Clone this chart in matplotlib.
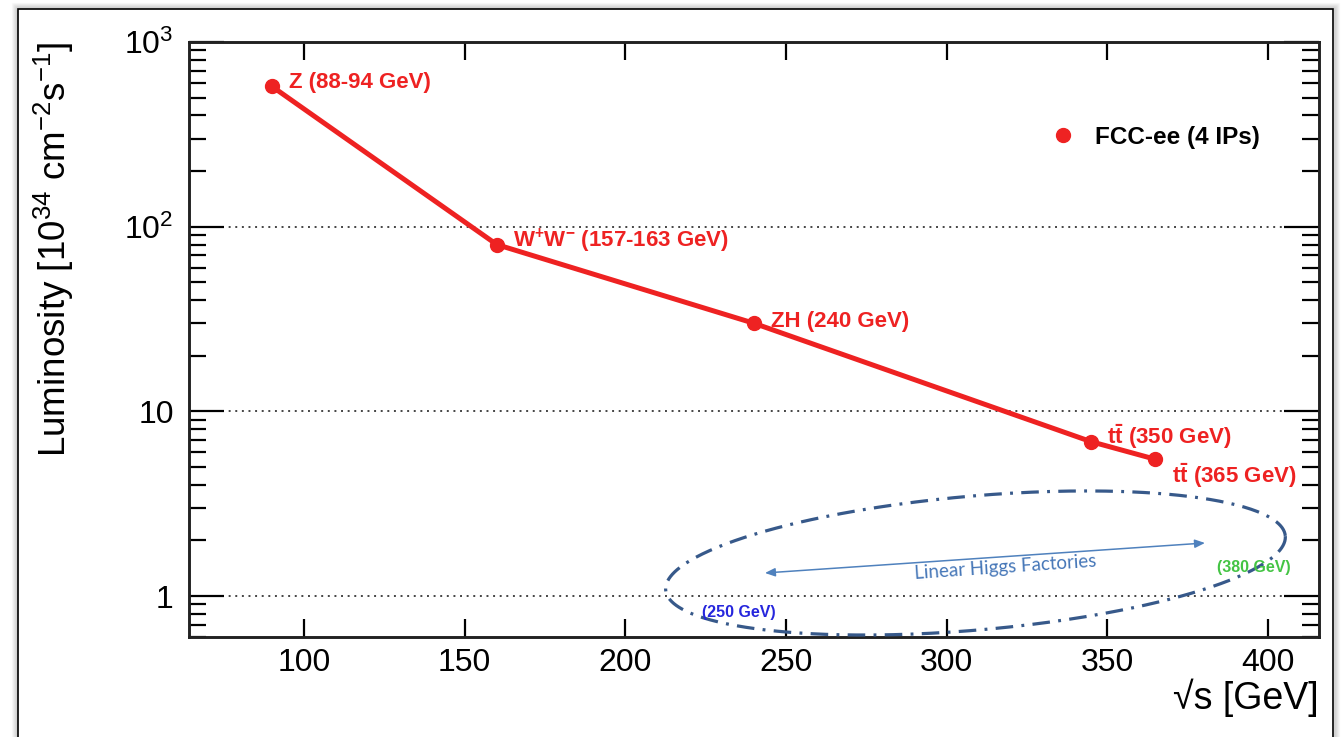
import numpy as np
import matplotlib
matplotlib.use("Agg")
import matplotlib.pyplot as plt
from matplotlib.patches import Rectangle
from matplotlib.lines import Line2D
from matplotlib.ticker import FixedLocator, FixedFormatter, LogLocator, NullFormatter, NullLocator

# FCC-ee operating points
sqrt_s = [90, 160, 240, 345, 365]
lumi = [575, 80, 30, 6.85, 5.5]
point_labels = [
    "Z (88-94 GeV)",
    r"$\mathbf{W^{+}W^{-}}$ (157-163 GeV)",
    "ZH (240 GeV)",
    r"$\mathbf{t\bar{t}}$ (350 GeV)",
    r"$\mathbf{t\bar{t}}$ (365 GeV)",
]
label_offsets = [(12, -1), (11.5, -2), (12, -2.5), (11.7, -1.5), (12, -17)]  # points

x_ticks = [100, 150, 200, 250, 300, 350, 400]
y_ticks = [1, 10, 100, 1000]
y_tick_labels = ["1", "10", r"$10^{2}$", r"$10^{3}$"]
legend_label = "FCC-ee (4 IPs)"

RED = "#ee2222"

plt.rcParams["font.family"] = ["Liberation Sans", "DejaVu Sans"]
plt.rcParams["mathtext.fontset"] = "custom"
plt.rcParams["mathtext.rm"] = "Liberation Sans"
plt.rcParams["mathtext.it"] = "Liberation Sans:italic"
plt.rcParams["mathtext.bf"] = "Liberation Sans:bold"

W, H = 1341, 737
fig = plt.figure(figsize=(W / 100, H / 100), dpi=100)
fig.subplots_adjust(left=189 / W, right=1319 / W, bottom=1 - 637 / H, top=1 - 42 / H)
ax = fig.add_subplot(111)

# main curve
ax.plot(sqrt_s, lumi, color=RED, lw=3.6, marker="o", ms=10, zorder=5, solid_capstyle="round")
for x, y, lab, off in zip(sqrt_s, lumi, point_labels, label_offsets):
    ax.annotate(lab, (x, y), xytext=off, textcoords="offset points",
                ha="left", va="baseline", color=RED, fontsize=16, fontweight="bold", zorder=6)

ax.set_yscale("log")
ax.set_xlim(64.2, 415.9)
ax.set_ylim(0.6, 1000)

ax.xaxis.set_major_locator(FixedLocator(x_ticks))
ax.xaxis.set_minor_locator(NullLocator())
ax.yaxis.set_major_locator(FixedLocator(y_ticks))
ax.yaxis.set_major_formatter(FixedFormatter(y_tick_labels))
ax.yaxis.set_minor_locator(LogLocator(base=10, subs=np.arange(2, 10)))
ax.yaxis.set_minor_formatter(NullFormatter())

ax.tick_params(axis="x", which="major", direction="in", length=13, width=1.6,
               top=True, bottom=True, labelsize=23, pad=8)
ax.tick_params(axis="y", which="major", direction="in", length=25, width=1.6,
               left=True, right=True, labelsize=23, pad=11)
ax.tick_params(axis="y", which="minor", direction="in", length=12, width=1.6,
               left=True, right=True)
for sp in ax.spines.values():
    sp.set_linewidth(2.1)
    sp.set_color("#222222")

ax.yaxis.grid(True, which="major", color="#444444", lw=1.4, linestyle=(0, (1, 2.4)))

ax.set_xlabel("√s [GeV]", fontsize=27, loc="right")
ax.xaxis.set_label_coords(1.0, -0.070)
ax.set_ylabel(r"Luminosity [10$^{34}$ cm$^{-2}$s$^{-1}$]", fontsize=26.5, loc="top")
ax.yaxis.set_label_coords(-0.100, 1.0)

# legend
handle = Line2D([], [], color=RED, marker="o", ms=10, lw=0)
ax.legend([handle], [legend_label], loc="center left", bbox_to_anchor=(0.7634, 0.840),
          frameon=False, borderpad=0, borderaxespad=0, handlelength=0.95, handletextpad=0.85,
          prop={"size": 17.5, "weight": "bold"})

# linear collider annotation (ellipse drawn in pixel aspect, placed in axes fraction)
aw, ah = 1130.0, 595.0
cx, cy, a, b, ang = 0.6960, 0.1244, 311.0, 67.0, np.deg2rad(5.0)
t = np.linspace(0, 2 * np.pi, 400)
ex = cx + (a * np.cos(t) * np.cos(ang) - b * np.sin(t) * np.sin(ang)) / aw
ey = cy + (a * np.cos(t) * np.sin(ang) + b * np.sin(t) * np.cos(ang)) / ah
ax.plot(ex, ey, transform=ax.transAxes, color="#37598a", lw=2.3,
        linestyle=(0, (5.5, 2.6, 0.9, 2.6)), zorder=4)

ax.annotate("", xy=(0.8991, 0.158), xytext=(0.5097, 0.1076), xycoords="axes fraction",
            arrowprops=dict(arrowstyle="<|-|>,head_length=0.6,head_width=0.25",
                            color="#4f81bd", lw=1.1, shrinkA=0, shrinkB=0), zorder=4)
ax.text(0.7221, 0.1176, "Linear Higgs Factories", transform=ax.transAxes, rotation=3.9,
        rotation_mode="anchor", ha="center", va="center", color="#4677b8",
        fontsize=13.5, family=["Lato", "DejaVu Sans"], zorder=4)
ax.text(0.4865, 0.042, "(250 GeV)", transform=ax.transAxes, ha="center", va="center",
        color="#2626dd", fontsize=11.5, fontweight="bold", zorder=4)
ax.text(0.9425, 0.1176, "(380 GeV)", transform=ax.transAxes, ha="center", va="center",
        color="#44c444", fontsize=11.5, fontweight="bold", zorder=4)

# screenshot frame with soft shadow
fx0, fx1, fy1 = 18 / W, 1333 / W, 1 - 9 / H
for i in range(1, 7):
    fig.add_artist(Rectangle((fx0 - i / W, -0.1), fx1 - fx0 + 2 * i / W, fy1 + 0.1 + i / H,
                             transform=fig.transFigure, fill=False, lw=1.0,
                             edgecolor="black", alpha=0.05 * (7 - i) / 2))
fig.add_artist(Rectangle((fx0, -0.1), fx1 - fx0, fy1 + 0.1, transform=fig.transFigure,
                         fill=False, lw=1.2, edgecolor="black"))

fig.savefig("out.png", dpi=100)
